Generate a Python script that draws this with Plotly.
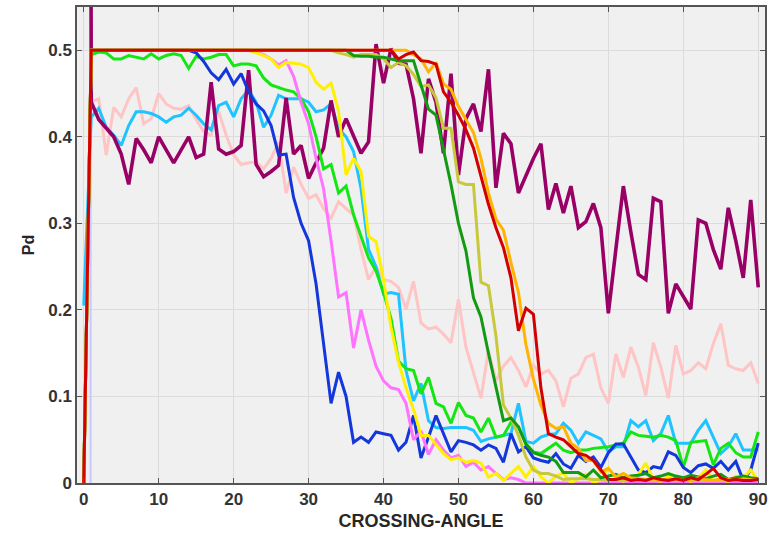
import plotly.graph_objects as go

# crossing angle in degrees, one sample per degree
angle = list(range(0, 91))

purple = [6.0, 0.44, 0.42, 0.41, 0.40, 0.38, 0.345, 0.398, 0.385, 0.37,
          0.40, 0.385, 0.37, 0.385, 0.40, 0.376, 0.38, 0.463, 0.386, 0.38,
          0.383, 0.39, 0.477, 0.368, 0.354, 0.36, 0.367, 0.445, 0.38, 0.39,
          0.352, 0.37, 0.387, 0.442, 0.40, 0.421, 0.40, 0.381, 0.394, 0.507,
          0.462, 0.502, 0.485, 0.484, 0.444, 0.381, 0.467, 0.44, 0.381, 0.473,
          0.356, 0.421, 0.438, 0.406, 0.478, 0.341, 0.404, 0.392, 0.335, 0.355,
          0.375, 0.392, 0.316, 0.346, 0.312, 0.343, 0.295, 0.302, 0.323, 0.295,
          0.196, 0.27, 0.343, 0.29, 0.241, 0.235, 0.329, 0.325, 0.196, 0.23,
          0.215, 0.201, 0.304, 0.30, 0.27, 0.247, 0.318, 0.28, 0.237, 0.327, 0.226]

pink = [None, 0.44, 0.444, 0.379, 0.434, 0.423, 0.444, 0.457, 0.415, 0.421,
        0.45, 0.438, 0.433, 0.432, 0.436, 0.42, 0.406, 0.402, 0.429, 0.402,
        0.379, 0.368, 0.37, 0.371, 0.363, 0.375, 0.394, 0.335, 0.365, 0.345,
        0.329, 0.333, 0.317, 0.306, 0.325, 0.317, 0.31, 0.27, 0.235, 0.25,
        0.235, 0.233, 0.226, 0.201, 0.233, 0.185, 0.178, 0.18, 0.172, 0.162,
        0.212, 0.157, 0.128, 0.098, 0.153, 0.118, 0.135, 0.145, 0.13, 0.111,
        0.136, 0.126, 0.13, 0.118, 0.088, 0.121, 0.126, 0.145, 0.149, 0.11,
        0.092, 0.149, 0.122, 0.157, 0.134, 0.101, 0.162, 0.134, 0.098, 0.159,
        0.126, 0.13, 0.139, 0.132, 0.161, 0.184, 0.136, 0.132, 0.13, 0.139, 0.115]

cyan = [0.205, 0.423, 0.433, 0.411, 0.402, 0.39, 0.413, 0.429, 0.429, 0.427,
        0.423, 0.417, 0.423, 0.425, 0.433, 0.425, 0.415, 0.408, 0.436, 0.44,
        0.423, 0.444, 0.454, 0.44, 0.411, 0.425, 0.448, 0.444, 0.444, 0.444,
        0.44, 0.429, 0.431, 0.438, 0.41, 0.40, 0.383, 0.34, 0.27, 0.25,
        0.218, 0.22, 0.218, 0.13, 0.095, 0.115, 0.072, 0.064, 0.063, 0.064,
        0.064, 0.064, 0.061, 0.048, 0.051, 0.053, 0.055, 0.057, 0.092, 0.048,
        0.046, 0.053, 0.056, 0.057, 0.069, 0.061, 0.046, 0.059, 0.055, 0.051,
        0.036, 0.042, 0.042, 0.072, 0.065, 0.072, 0.049, 0.057, 0.078, 0.046,
        0.046, 0.046, 0.061, 0.072, 0.053, 0.034, 0.042, 0.057, 0.038, 0.038, 0.038]

lime = [0.0, 0.495, 0.498, 0.497, 0.49, 0.49, 0.494, 0.492, 0.49, 0.496,
        0.49, 0.494, 0.496, 0.494, 0.479, 0.493, 0.49, 0.492, 0.495, 0.495,
        0.482, 0.484, 0.484, 0.482, 0.468, 0.46, 0.457, 0.454, 0.452, 0.444,
        0.429, 0.40, 0.363, 0.368, 0.335, 0.343, 0.31, 0.285, 0.26, 0.245,
        0.22, 0.19, 0.141, 0.132, 0.13, 0.103, 0.122, 0.092, 0.088, 0.069,
        0.093, 0.078, 0.075, 0.059, 0.075, 0.053, 0.055, 0.07, 0.065, 0.045,
        0.036, 0.034, 0.04, 0.046, 0.038, 0.035, 0.038, 0.038, 0.04, 0.041,
        0.042, 0.044, 0.046, 0.059, 0.055, 0.054, 0.053, 0.055, 0.053, 0.049,
        0.018, 0.047, 0.048, 0.049, 0.021, 0.04, 0.046, 0.035, 0.03, 0.03, 0.059]

blue = [0.0, 0.5, 0.5, 0.5, 0.5, 0.5, 0.5, 0.5, 0.5, 0.5,
        0.5, 0.5, 0.5, 0.5, 0.5, 0.497, 0.487, 0.474, 0.466, 0.478,
        0.461, 0.473, 0.452, 0.438, 0.43, 0.413, 0.379, 0.38, 0.33, 0.30,
        0.28, 0.23, 0.16, 0.092, 0.128, 0.10, 0.047, 0.053, 0.047, 0.059,
        0.057, 0.055, 0.038, 0.047, 0.078, 0.029, 0.053, 0.078, 0.057, 0.036,
        0.049, 0.047, 0.044, 0.038, 0.044, 0.04, 0.024, 0.057, 0.036, 0.042,
        0.029, 0.026, 0.024, 0.034, 0.022, 0.017, 0.032, 0.025, 0.03, 0.018,
        0.035, 0.045, 0.045, 0.03, 0.015, 0.012, 0.019, 0.017, 0.036, 0.032,
        0.018, 0.012, 0.02, 0.022, 0.017, 0.025, 0.015, 0.025, 0.003, 0.015, 0.046]

violet = [0.0, 0.5, 0.5, 0.5, 0.5, 0.5, 0.5, 0.5, 0.5, 0.5,
          0.5, 0.5, 0.5, 0.5, 0.5, 0.5, 0.5, 0.5, 0.5, 0.5,
          0.5, 0.5, 0.5, 0.498, 0.495, 0.49, 0.483, 0.488, 0.47, 0.44,
          0.415, 0.375, 0.34, 0.28, 0.215, 0.22, 0.156, 0.2, 0.165, 0.135,
          0.118, 0.11, 0.108, 0.092, 0.05, 0.06, 0.033, 0.05, 0.038, 0.029,
          0.032, 0.019, 0.024, 0.015, 0.019, 0.011, 0.004, 0.006, 0.004, 0.0,
          0.0, 0.0, 0.0, 0.0, 0.0, 0.0, 0.0, 0.0, 0.0, 0.0,
          0.0, 0.0, 0.0, 0.0, 0.0, 0.0, 0.0, 0.0, 0.0, 0.0,
          0.0, 0.0, 0.0, 0.0, 0.0, 0.0, 0.0, 0.0, 0.0, 0.0, 0.0]

yellow = [0.0, 0.5, 0.5, 0.5, 0.5, 0.5, 0.5, 0.5, 0.5, 0.5,
          0.5, 0.5, 0.5, 0.5, 0.5, 0.5, 0.5, 0.5, 0.5, 0.5,
          0.5, 0.5, 0.5, 0.497, 0.494, 0.49, 0.48, 0.486, 0.485, 0.484,
          0.48, 0.463, 0.455, 0.462, 0.43, 0.356, 0.375, 0.36, 0.285, 0.279,
          0.235, 0.18, 0.14, 0.11, 0.085, 0.055, 0.055, 0.045, 0.034, 0.027,
          0.029, 0.024, 0.026, 0.023, 0.007, 0.011, 0.003, 0.011, 0.019, 0.007,
          0.019, 0.007, 0.0, 0.008, 0.012, 0.0, 0.005, 0.01, 0.0, 0.004,
          0.017, 0.006, 0.002, 0.006, 0.01, 0.023, 0.004, 0.002, 0.008, 0.004,
          0.005, 0.002, 0.006, 0.015, 0.003, 0.004, 0.002, 0.008, 0.006, 0.015, 0.003]

olive = [0.0, 0.5, 0.5, 0.5, 0.5, 0.5, 0.5, 0.5, 0.5, 0.5,
         0.5, 0.5, 0.5, 0.5, 0.5, 0.5, 0.5, 0.5, 0.5, 0.5,
         0.5, 0.5, 0.5, 0.5, 0.5, 0.5, 0.5, 0.5, 0.5, 0.5,
         0.5, 0.5, 0.5, 0.5, 0.497, 0.495, 0.492, 0.495, 0.495, 0.495,
         0.49, 0.48, 0.486, 0.482, 0.472, 0.458, 0.46, 0.445, 0.41, 0.41,
         0.348, 0.345, 0.345, 0.232, 0.228, 0.17, 0.09, 0.075, 0.055, 0.03,
         0.015, 0.011, 0.011, 0.008, 0.004, 0.005, 0.005, 0.005, 0.004, 0.004,
         0.003, 0.003, 0.003, 0.003, 0.003, 0.003, 0.003, 0.003, 0.003, 0.003,
         0.003, 0.003, 0.003, 0.003, 0.003, 0.003, 0.003, 0.003, 0.003, 0.003, 0.003]

dark_green = [0.0, 0.5, 0.5, 0.5, 0.5, 0.5, 0.5, 0.5, 0.5, 0.5,
              0.5, 0.5, 0.5, 0.5, 0.5, 0.5, 0.5, 0.5, 0.5, 0.5,
              0.5, 0.5, 0.5, 0.5, 0.5, 0.5, 0.5, 0.5, 0.5, 0.5,
              0.5, 0.5, 0.5, 0.5, 0.5, 0.5, 0.494, 0.493, 0.493, 0.492,
              0.492, 0.49, 0.488, 0.488, 0.488, 0.46, 0.432, 0.425, 0.386, 0.345,
              0.30, 0.268, 0.214, 0.192, 0.15, 0.11, 0.072, 0.075, 0.065, 0.045,
              0.035, 0.032, 0.03, 0.025, 0.012, 0.012, 0.012, 0.007, 0.015, 0.006,
              0.008, 0.01, 0.006, 0.008, 0.009, 0.011, 0.006, 0.008, 0.011, 0.008,
              0.006, 0.009, 0.007, 0.005, 0.008, 0.01, 0.004, 0.006, 0.008, 0.006, 0.005]

orange = [0.0, 0.5, 0.5, 0.5, 0.5, 0.5, 0.5, 0.5, 0.5, 0.5,
          0.5, 0.5, 0.5, 0.5, 0.5, 0.5, 0.5, 0.5, 0.5, 0.5,
          0.5, 0.5, 0.5, 0.5, 0.5, 0.5, 0.5, 0.5, 0.5, 0.5,
          0.5, 0.5, 0.5, 0.5, 0.5, 0.5, 0.5, 0.5, 0.5, 0.5,
          0.5, 0.5, 0.5, 0.5, 0.495, 0.49, 0.475, 0.486, 0.461, 0.455,
          0.435, 0.42, 0.405, 0.375, 0.335, 0.305, 0.292, 0.255, 0.22, 0.16,
          0.12, 0.09, 0.069, 0.063, 0.065, 0.046, 0.04, 0.026, 0.026, 0.013,
          0.017, 0.007, 0.011, 0.006, 0.005, 0.004, 0.005, 0.003, 0.004, 0.005,
          0.003, 0.004, 0.006, 0.004, 0.003, 0.005, 0.004, 0.003, 0.005, 0.004, 0.003]

red = [0.0, 0.5, 0.5, 0.5, 0.5, 0.5, 0.5, 0.5, 0.5, 0.5,
       0.5, 0.5, 0.5, 0.5, 0.5, 0.5, 0.5, 0.5, 0.5, 0.5,
       0.5, 0.5, 0.5, 0.5, 0.5, 0.5, 0.5, 0.5, 0.5, 0.5,
       0.5, 0.5, 0.5, 0.5, 0.5, 0.5, 0.5, 0.5, 0.5, 0.5,
       0.5, 0.5, 0.49, 0.495, 0.498, 0.488, 0.487, 0.484, 0.452, 0.44,
       0.425, 0.408, 0.387, 0.355, 0.322, 0.295, 0.272, 0.237, 0.176, 0.202,
       0.195, 0.11, 0.057, 0.053, 0.05, 0.042, 0.034, 0.032, 0.026, 0.015,
       0.004, 0.004, 0.006, 0.003, 0.004, 0.003, 0.006, 0.004, 0.003, 0.005,
       0.003, 0.006, 0.004, 0.01, 0.017, 0.006, 0.003, 0.004, 0.003, 0.003, 0.004]

# short steep trace at the origin
lavender = [-20.0, 2.0]

x_ticks = [0, 10, 20, 30, 40, 50, 60, 70, 80, 90]
y_ticks = [0, 0.1, 0.2, 0.3, 0.4, 0.5]
y_tick_text = ["0", "0.1", "0.2", "0.3", "0.4", "0.5"]

series = [
    ("lavender", lavender, "#c8c8ff", 2),
    ("pink", pink, "#ffc4c4", 3),
    ("cyan", cyan, "#1ec3ff", 3),
    ("purple", purple, "#990066", 3.6),
    ("lime", lime, "#14e614", 3),
    ("blue", blue, "#1437dc", 3),
    ("violet", violet, "#ff73ff", 3),
    ("yellow", yellow, "#ffef00", 3),
    ("olive", olive, "#c8c83c", 3),
    ("dark green", dark_green, "#139a13", 3),
    ("orange", orange, "#ffb400", 3),
    ("red", red, "#d20000", 3),
]

fig = go.Figure()
for name, vals, color, width in series:
    fig.add_trace(go.Scatter(
        x=angle[:len(vals)], y=vals, mode="lines", name=name,
        line=dict(color=color, width=width),
        connectgaps=False, hoverinfo="skip",
    ))

FONT = "Arial, Liberation Sans, sans-serif"
tick_font = dict(family=FONT, size=17, color="#333333", weight="bold")
title_font = dict(family=FONT, size=18, color="#262626", weight="bold")

fig.update_layout(
    width=773, height=536,
    margin=dict(l=77, r=8, t=5, b=53),
    paper_bgcolor="white",
    plot_bgcolor="#f0f0f0",
    showlegend=False,
    xaxis=dict(
        range=[-0.9, 90.9], tickvals=x_ticks, ticks="inside", ticklen=5,
        tickcolor="#555555", showgrid=True, gridcolor="#dcdcdc", gridwidth=1,
        zeroline=False, showline=True, linecolor="#555555", linewidth=1.5,
        mirror="ticks", tickfont=tick_font,
        title=dict(text="CROSSING-ANGLE", font=title_font, standoff=6),
    ),
    yaxis=dict(
        range=[0, 0.55], tickvals=y_ticks, ticktext=y_tick_text,
        ticks="inside", ticklen=5, tickcolor="#555555",
        showgrid=True, gridcolor="#dcdcdc", gridwidth=1,
        zeroline=False, showline=True, linecolor="#555555", linewidth=1.5,
        mirror="ticks", tickfont=tick_font,
        title=dict(text="Pd", font=dict(family=FONT, size=16, color="#262626",
                                        weight="bold"),
                   standoff=10),
    ),
)

fig.write_html("out.html")
